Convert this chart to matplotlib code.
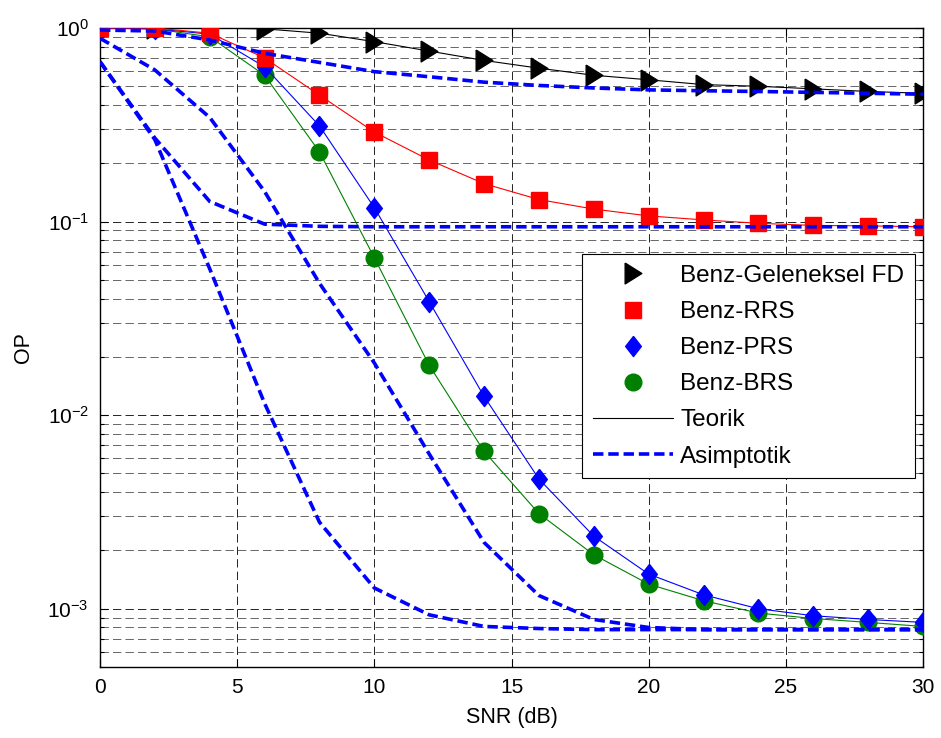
import matplotlib

matplotlib.use("Agg")
import matplotlib.pyplot as plt  # noqa: E402
from matplotlib.lines import Line2D  # noqa: E402
from matplotlib.ticker import LogLocator, NullFormatter  # noqa: E402

plt.rcParams.update({
    "font.family": ["Liberation Sans", "DejaVu Sans"],
    "font.size": 14,
    "mathtext.default": "regular",
    "lines.scale_dashes": False,
})

# --- data ------------------------------------------------------------------

snr = [0, 2, 4, 6, 8, 10, 12, 14, 16, 18, 20, 22, 24, 26, 28, 30]

fd_sim = [1.0, 1.0, 0.999, 0.99, 0.94, 0.85, 0.76, 0.68, 0.62, 0.57,
          0.54, 0.51, 0.50, 0.485, 0.47, 0.46]
rrs_sim = [1.0, 1.0, 0.94, 0.70, 0.45, 0.29, 0.208, 0.157, 0.13, 0.116,
           0.107, 0.102, 0.098, 0.0955, 0.095, 0.094]
prs_sim = [1.0, 0.99, 0.93, 0.63, 0.312, 0.118, 0.0386, 0.0125, 0.00468,
           0.00237, 0.00151, 0.00118, 0.0010, 0.00092, 0.00088, 0.00085]
brs_sim = [1.0, 0.99, 0.90, 0.57, 0.229, 0.065, 0.0181, 0.0065, 0.0031,
           0.0019, 0.00134, 0.0011, 0.00095, 0.00089, 0.00085, 0.00081]

fd_asy = [0.976, 0.965, 0.867, 0.74, 0.664, 0.595, 0.56, 0.525, 0.505,
          0.49, 0.479, 0.474, 0.47, 0.465, 0.46, 0.455]
rrs_asy = [0.67, 0.27, 0.127, 0.097, 0.0945, 0.094, 0.094, 0.094, 0.094,
           0.094, 0.094, 0.094, 0.094, 0.094, 0.094, 0.094]
brs_asy = [0.67, 0.265, 0.057, 0.0115, 0.0028, 0.00128, 0.00093, 0.00081,
           0.00079, 0.00078, 0.00078, 0.00078, 0.00078, 0.00078, 0.00078,
           0.00078]
prs_asy = [0.885, 0.607, 0.345, 0.143, 0.048, 0.0186, 0.0063, 0.0022,
           0.00117, 0.00088, 0.00080, 0.00078, 0.00078, 0.00078, 0.00078,
           0.00078]

# MATLAB-like marker shapes
TRI = [(-0.8, 1), (0.8, 0), (-0.8, -1), (-0.8, 1)]
DIA = [(0, 1), (0.78, 0), (0, -1), (-0.78, 0), (0, 1)]

DASH = (0, (7.5, 3.5))
GRID_DASH = (0, (6, 3))

fig = plt.figure(figsize=(9.41, 7.38), dpi=100)
ax = fig.add_axes([100 / 941, 1 - 667 / 738, 823 / 941, 639 / 738])

# theory + simulation
ax.plot(snr, fd_sim, color="black", lw=0.8, marker=TRI, ms=15,
        mfc="black", mec="black", zorder=4)
ax.plot(snr, brs_sim, color="green", lw=0.8, marker="o", ms=12,
        mfc="green", mec="green", zorder=4)
ax.plot(snr, prs_sim, color="blue", lw=0.8, marker=DIA, ms=14.5,
        mfc="blue", mec="blue", zorder=5)
ax.plot(snr, rrs_sim, color="red", lw=0.8, marker="s", ms=11.5,
        mfc="red", mec="red", zorder=6)

# asymptotic curves (drawn last, on top)
for ys in (fd_asy, rrs_asy, brs_asy, prs_asy):
    ax.plot(snr, ys, color="blue", lw=2.6, linestyle=DASH, zorder=7)

ax.set_yscale("log")
ax.set_xlim(0, 30)
ax.set_ylim(5e-4, 1)
ax.set_xticks(range(0, 31, 5))
ax.yaxis.set_major_locator(LogLocator(base=10, numticks=10))
ax.yaxis.set_minor_locator(LogLocator(base=10, subs=range(2, 10), numticks=10))
ax.yaxis.set_minor_formatter(NullFormatter())

ax.grid(True, which="major", color="black", lw=0.6, linestyle=GRID_DASH)
ax.grid(True, which="minor", axis="y", color="0.3", lw=0.6,
        linestyle=GRID_DASH)
ax.set_axisbelow(True)

ax.tick_params(which="both", direction="in", top=True, right=True,
               labelsize=15, width=0.8)
ax.tick_params(which="major", length=6, pad=8)
ax.tick_params(which="minor", length=3)
for s in ax.spines.values():
    s.set_linewidth(1.0)

ax.set_xlabel("SNR (dB)", fontsize=15.5, labelpad=7)
ax.set_ylabel("OP", fontsize=15.5, labelpad=10)

handles = [
    Line2D([], [], ls="none", marker=TRI, ms=15, color="black"),
    Line2D([], [], ls="none", marker="s", ms=11.5, color="red"),
    Line2D([], [], ls="none", marker=DIA, ms=14.5, color="blue"),
    Line2D([], [], ls="none", marker="o", ms=12, color="green"),
    Line2D([], [], color="black", lw=0.8),
    Line2D([], [], color="blue", lw=2.6, linestyle=DASH),
]
labels = ["Benz-Geleneksel FD", "Benz-RRS", "Benz-PRS", "Benz-BRS",
          "Teorik", "Asimptotik"]
leg = ax.legend(handles, labels, loc="upper right",
                bbox_to_anchor=(915 / 941, 1 - 254 / 738),
                bbox_transform=fig.transFigure, fontsize=17.5,
                handlelength=3.3, handletextpad=0.3, labelspacing=0.58,
                borderpad=0.45, borderaxespad=0, fancybox=False,
                framealpha=1, edgecolor="black")
leg.set_zorder(10)
leg.get_frame().set_linewidth(0.8)

fig.savefig("out.png", dpi=100, facecolor="white")
